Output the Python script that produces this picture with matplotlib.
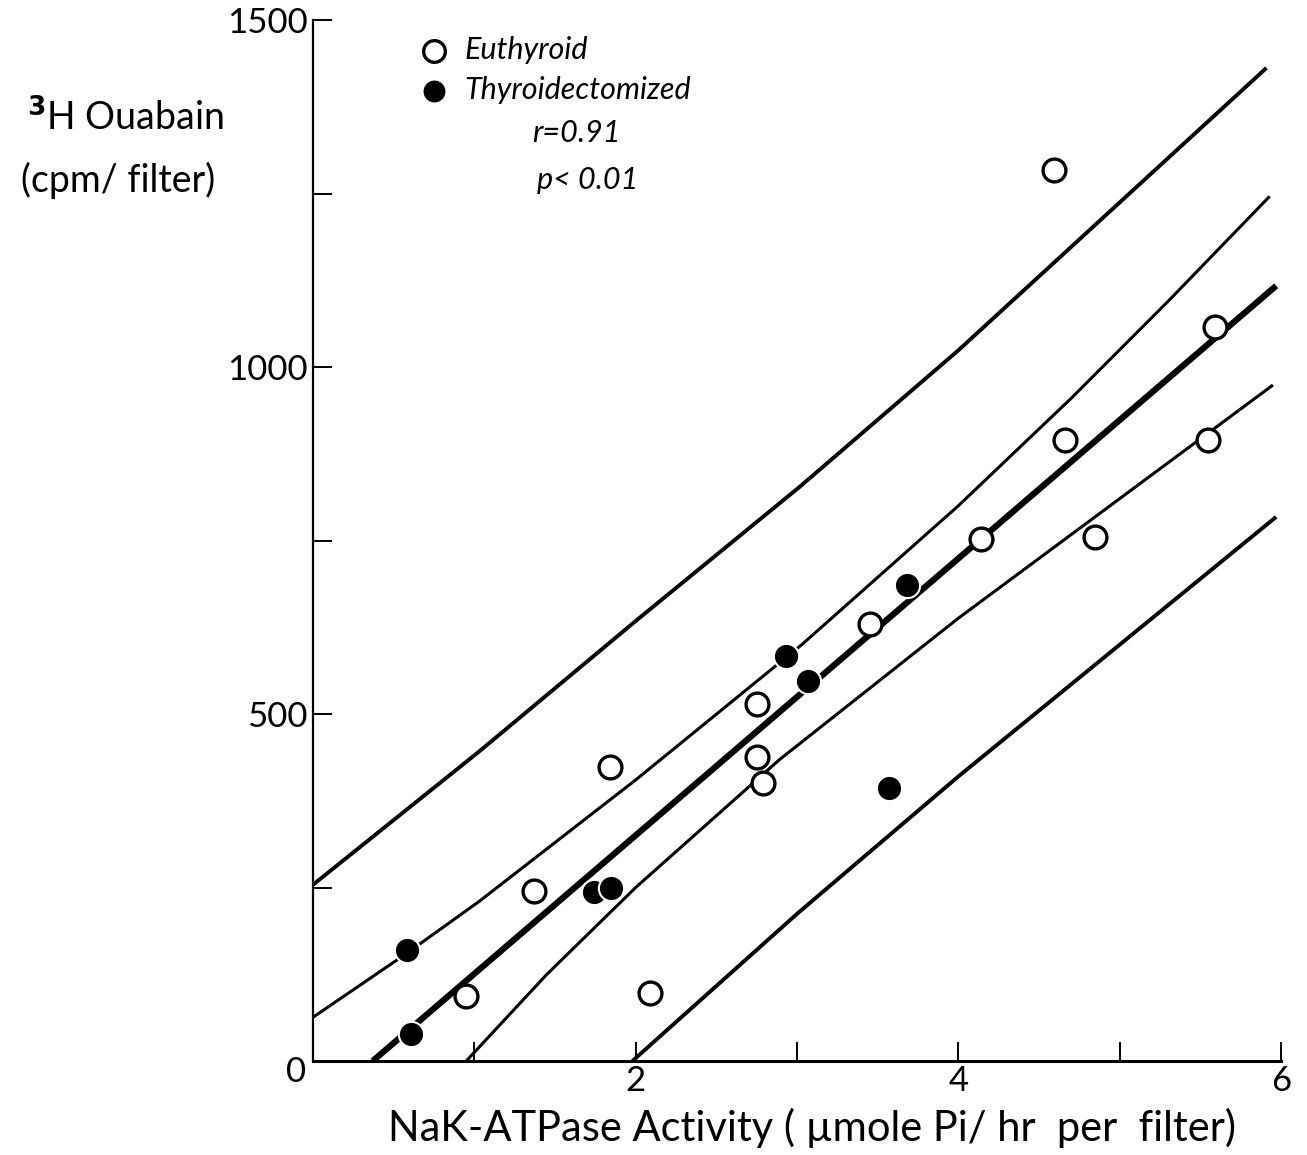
import numpy as np
import matplotlib.pyplot as plt
from matplotlib.ticker import FixedLocator

plt.rcParams['font.family'] = ['Lato', 'DejaVu Sans']

# --- puntos ---
eu_x = [4.59, 5.59, 4.66, 5.55, 4.14, 4.85, 3.45, 2.75, 2.75, 2.79, 1.84, 1.37, 0.95, 2.09]
eu_y = [1284, 1058, 895, 895, 752, 755, 630, 514, 438, 400, 423, 245, 94, 98]

tx_x = [3.68, 2.93, 3.07, 3.57, 1.74, 1.85, 0.58, 0.61]
tx_y = [686, 583, 547, 393, 244, 249, 160, 39]

# recta de regresion y bandas (puntos leidos sobre cada curva)
reg_x = [0.37, 5.97]
reg_y = [0, 1117]

pred_sup_x = [0, 1.03, 2.0, 3.02, 4.0, 5.91]
pred_sup_y = [254, 446, 634, 828, 1024, 1431]

conf_sup_x = [0, 0.58, 1.03, 2.0, 3.03, 4.0, 4.7, 5.31, 5.93]
conf_sup_y = [63, 155, 230, 405, 600, 800, 955, 1097, 1246]

conf_inf_x = [0.95, 1.45, 2.0, 2.89, 4.0, 5.95]
conf_inf_y = [0, 125, 250, 434, 638, 974]

pred_inf_x = [1.98, 3.0, 4.0, 5.97]
pred_inf_y = [0, 212, 410, 784]

W, H = 1307, 1155
fig = plt.figure(figsize=(W / 100, H / 100), dpi=100)
ax = fig.add_axes([313 / W, 1 - 1061 / H, (1281 - 313) / W, (1061 - 20) / H])

ax.plot(pred_sup_x, pred_sup_y, color='black', lw=2.8, solid_capstyle='butt', zorder=2)
ax.plot(conf_sup_x, conf_sup_y, color='black', lw=2.2, solid_capstyle='butt', zorder=2)
ax.plot(reg_x, reg_y, color='black', lw=4.5, solid_capstyle='butt', zorder=2)
ax.plot(conf_inf_x, conf_inf_y, color='black', lw=2.2, solid_capstyle='butt', zorder=2)
ax.plot(pred_inf_x, pred_inf_y, color='black', lw=2.8, solid_capstyle='butt', zorder=2)

eu = ax.scatter(eu_x, eu_y, s=270, facecolor='white', edgecolor='black',
                linewidth=2.4, zorder=4, clip_on=False)
tx = ax.scatter(tx_x, tx_y, s=330, facecolor='black', edgecolor='white',
                linewidth=1.5, zorder=5, clip_on=False)

ax.set_xlim(0, 6)
ax.set_ylim(0, 1500)

for lado in ['top', 'right']:
    ax.spines[lado].set_visible(False)
ax.spines['left'].set_linewidth(1.6)
ax.spines['bottom'].set_linewidth(2.2)

ax.xaxis.set_major_locator(FixedLocator([2, 4, 6]))
ax.xaxis.set_minor_locator(FixedLocator([1, 3, 5]))
ax.yaxis.set_major_locator(FixedLocator([500, 1000, 1500]))
ax.yaxis.set_minor_locator(FixedLocator([250, 750, 1250]))
ax.tick_params(which='both', direction='in', length=14, width=1.4, labelsize=25, colors='black')
ax.tick_params(axis='x', pad=3)
ax.tick_params(axis='y', pad=4)
ax.set_yticklabels(['500', '1000', '1500'])
ax.set_xticklabels(['2', '4', '6'])
fig.text(296 / W, 1 - 1072 / H, '0', fontsize=25, ha='center', va='center')

fig.text(812 / W, 1 - 1128 / H, 'NaK-ATPase Activity ( \u00b5mole Pi/ hr  per  filter)',
         fontsize=30, ha='center', va='center')
fig.text(125 / W, 1 - 118 / H, '$^{\\mathbf{3}}$H Ouabain', fontsize=27, ha='center', va='center')
fig.text(118 / W, 1 - 180 / H, '(cpm/ filter)', fontsize=27, ha='center', va='center')

leg = ax.legend([eu, tx], ['Euthyroid', 'Thyroidectomized'], loc='upper left',
                bbox_to_anchor=(422 / W, 1 - 36 / H), bbox_transform=fig.transFigure,
                frameon=False, handlelength=0.8, handletextpad=0.6, labelspacing=0.4,
                markerscale=0.95, borderpad=0, borderaxespad=0,
                prop={'style': 'italic', 'size': 22})
fig.text(576 / W, 1 - 133 / H, 'r=0.91', fontsize=22, style='italic', ha='center', va='center')
fig.text(588 / W, 1 - 180 / H, 'p< 0.01', fontsize=22, style='italic', ha='center', va='center')

fig.savefig('out.png', dpi=100, facecolor='white')
